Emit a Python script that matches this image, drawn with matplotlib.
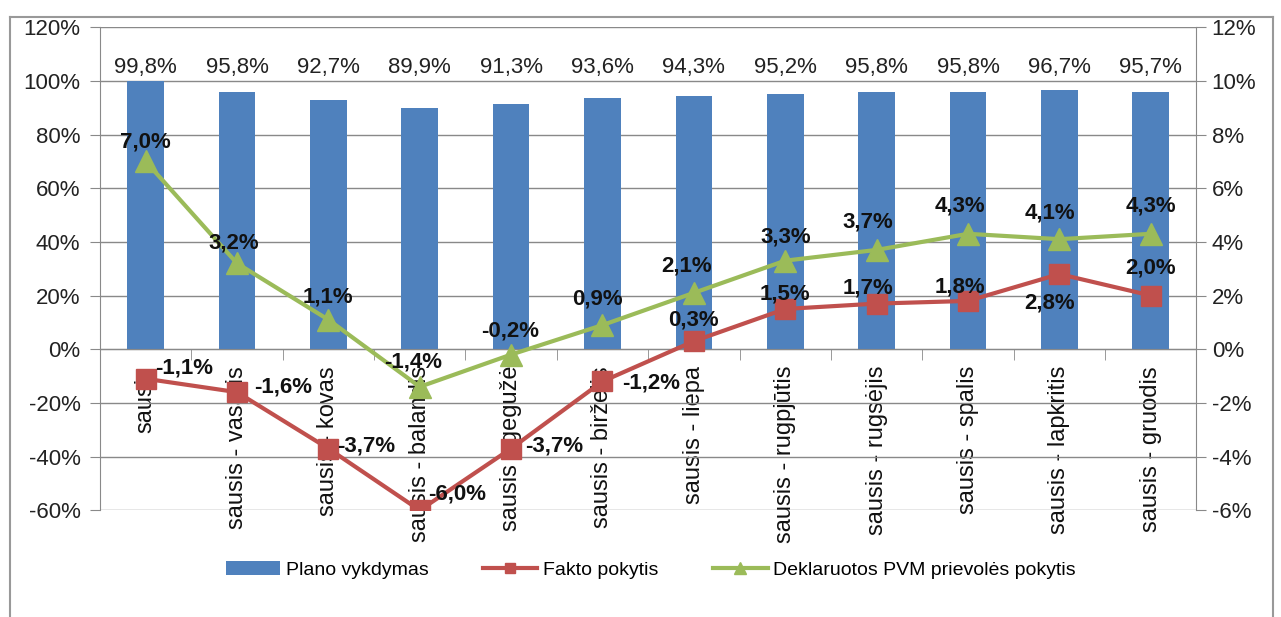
import matplotlib
matplotlib.use("Agg")
from matplotlib import pyplot as plt
from matplotlib.lines import Line2D

months = ["sausis", "sausis - vasaris", "sausis - kovas", "sausis - balandis", "sausis - gegužė",
          "sausis - birželis", "sausis - liepa", "sausis - rugpjūtis", "sausis - rugsėjis",
          "sausis - spalis", "sausis - lapkritis", "sausis - gruodis"]
plano = [99.8, 95.8, 92.7, 89.9, 91.3, 93.6, 94.3, 95.2, 95.8, 95.8, 96.7, 95.7]
fakto = [-1.1, -1.6, -3.7, -6.0, -3.7, -1.2, 0.3, 1.5, 1.7, 1.8, 2.8, 2.0]
deklar = [7.0, 3.2, 1.1, -1.4, -0.2, 0.9, 2.1, 3.3, 3.7, 4.3, 4.1, 4.3]

# label offsets (points) for the line labels
fakto_off = [(28, 8), (33, 4), (27, 2), (27, 12), (31, 2), (35, -1),
             (0, 15), (0, 11), (-6, 11), (-6, 10), (-7, -21), (0, 20)]
deklar_off = [(0, 14), (-2, 15), (0, 16), (-5, 18), (-1, 17), (-4, 19),
              (-5, 19), (0, 17), (-6, 20), (-6, 20), (-7, 19), (0, 20)]

plt.rcParams['font.family'] = ['Liberation Sans', 'DejaVu Sans']

fig = plt.figure(figsize=(12.81, 6.17), dpi=100)
ax = fig.add_axes([0.078, 0.173, 0.856, 0.783])
ax2 = ax.twinx()

x = range(len(months))
blue, red, green = "#4F81BD", "#C0504D", "#9BBB59"
grid_c = "#898989"
fs = 16

bars = ax.bar(x, plano, width=0.4, color=blue, zorder=2, label="Plano vykdymas")
for i, v in enumerate(plano):
    ax.text(i, 105, "{:.1f}%".format(v).replace(".", ","), ha="center", va="center",
            fontsize=fs, color="#222222", zorder=3)

ax.set_xlim(-0.5, len(months) - 0.5)
ax.set_ylim(-60, 120)
ax.set_yticks(range(-60, 121, 20))
ax.set_yticklabels(["{}%".format(v) for v in range(-60, 121, 20)], fontsize=fs, color="#222222")
ax.yaxis.grid(True, color=grid_c, linewidth=1)
ax.set_axisbelow(True)

ax.spines['bottom'].set_position(('data', 0))
for s in ['top', 'right']:
    ax.spines[s].set_visible(False)
ax.spines['left'].set_color(grid_c)
ax.spines['bottom'].set_color(grid_c)
ax.set_xticks(list(x))
ax.set_xticklabels(months, rotation=90, fontsize=17, va="top", color="#111111")
ax.set_xticks([i + 0.5 for i in range(-1, len(months))], minor=True)
ax.tick_params(axis='x', which='major', length=0, pad=12)
ax.tick_params(axis='x', which='minor', length=8, color=grid_c)
ax.tick_params(axis='y', length=7, color=grid_c, pad=7)

l1, = ax2.plot(x, fakto, color=red, linewidth=3, marker="s", markersize=14, label="Fakto pokytis", zorder=4)
l2, = ax2.plot(x, deklar, color=green, linewidth=3, marker="^", markersize=16,
               label="Deklaruotos PVM prievolės pokytis", zorder=4)
for i, v in enumerate(fakto):
    ax2.annotate("{:.1f}%".format(v).replace(".", ","), (i, v), xytext=fakto_off[i],
                 textcoords="offset points", ha="center", va="center", fontsize=fs,
                 fontweight="bold", color="#111111", zorder=5)
for i, v in enumerate(deklar):
    ax2.annotate("{:.1f}%".format(v).replace(".", ","), (i, v), xytext=deklar_off[i],
                 textcoords="offset points", ha="center", va="center", fontsize=fs,
                 fontweight="bold", color="#111111", zorder=5)

ax2.set_ylim(-6, 12)
ax2.set_yticks(range(-6, 13, 2))
ax2.set_yticklabels(["{}%".format(v) for v in range(-6, 13, 2)], fontsize=fs, color="#222222")
for s in ['top', 'left', 'bottom']:
    ax2.spines[s].set_visible(False)
ax2.spines['right'].set_color(grid_c)
ax2.tick_params(axis='y', length=7, color=grid_c, pad=4)

fig.legend(handles=[bars, l1, l2], loc="center", bbox_to_anchor=(0.508, 0.076), ncol=3,
           frameon=False, fontsize=14, handlelength=2.8, handletextpad=0.3,
           columnspacing=2.8, markerscale=0.5)

# outer frame
fig.add_artist(Line2D([0.008, 0.008], [0, 0.973], color="#999999", linewidth=1.5))
fig.add_artist(Line2D([0.008, 0.994], [0.973, 0.973], color="#999999", linewidth=1.5))
fig.add_artist(Line2D([0.994, 0.994], [0, 0.973], color="#999999", linewidth=1.5))

fig.savefig("out.png", dpi=100)
